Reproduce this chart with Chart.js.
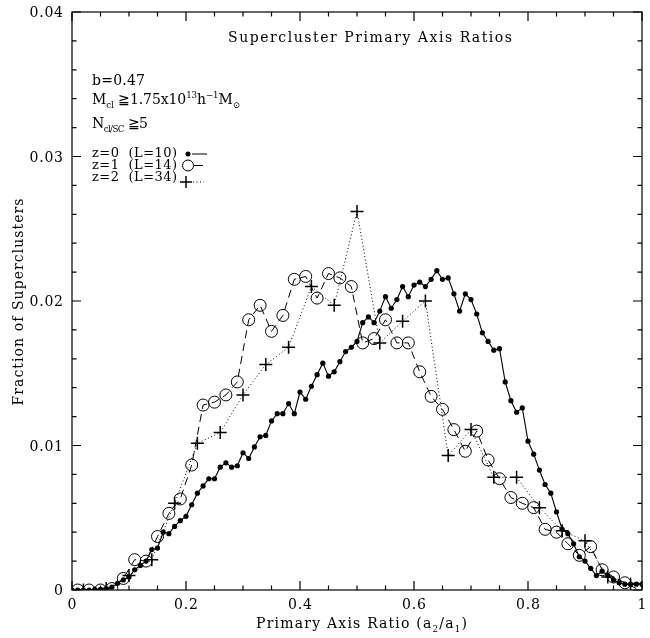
<!DOCTYPE html>
<html><head><meta charset="utf-8">
<script src="https://cdn.jsdelivr.net/npm/chart.js@4.4.1/dist/chart.umd.min.js"></script>
<style>html,body{margin:0;padding:0;background:#fff;}#wrap{width:650px;height:638px;position:relative}</style>
</head><body><div id="wrap"><canvas id="c" width="650" height="638"></canvas></div>
<script>
// z=0 (L=10) : fine bins
const z0X = [0,0.01,0.02,0.03,0.04,0.05,0.06,0.07,0.08,0.09,0.10,0.11,0.12,0.13,0.14,0.15,0.16,0.17,0.18,0.19,0.20,0.21,0.22,0.23,0.24,0.25,0.26,0.27,0.28,0.29,0.30,0.31,0.32,0.33,0.34,0.35,0.36,0.37,0.38,0.39,0.40,0.41,0.42,0.43,0.44,0.45,0.46,0.47,0.48,0.49,0.50,0.51,0.52,0.53,0.54,0.55,0.56,0.57,0.58,0.59,0.60,0.61,0.62,0.63,0.64,0.65,0.66,0.67,0.68,0.69,0.70,0.71,0.72,0.73,0.74,0.75,0.76,0.77,0.78,0.79,0.80,0.81,0.82,0.83,0.84,0.85,0.86,0.87,0.88,0.89,0.90,0.91,0.92,0.93,0.94,0.95,0.96,0.97,0.98,0.99,1.00];
const z0Y = [0,0,0,0,0.00005,0.00005,0.0001,0.0002,0.00046,0.0007,0.0009,0.0014,0.0017,0.002,0.0028,0.0029,0.004,0.0039,0.0044,0.0048,0.0051,0.0059,0.0067,0.0072,0.0077,0.0077,0.0085,0.0088,0.0085,0.0086,0.0095,0.0091,0.0099,0.0106,0.0107,0.0117,0.0122,0.0122,0.0129,0.0122,0.0137,0.0132,0.0141,0.0149,0.0157,0.0148,0.0151,0.0158,0.0165,0.0168,0.0172,0.0185,0.0189,0.0185,0.0193,0.0203,0.0195,0.0201,0.021,0.0203,0.0211,0.0213,0.021,0.0215,0.0221,0.0215,0.0216,0.0205,0.0193,0.0205,0.0201,0.0191,0.0178,0.0172,0.0166,0.0167,0.0144,0.0131,0.0123,0.0126,0.0103,0.0094,0.0083,0.0073,0.0067,0.0054,0.0042,0.0039,0.0032,0.0023,0.002,0.0015,0.001,0.0013,0.001,0.0007,0.0005,0.0004,0.0004,0.0004,0.0004];
// z=1 (L=14)
const z1X = [0.01,0.03,0.05,0.07,0.09,0.11,0.13,0.15,0.17,0.19,0.21,0.23,0.25,0.27,0.29,0.31,0.33,0.35,0.37,0.39,0.41,0.43,0.45,0.47,0.49,0.51,0.53,0.55,0.57,0.59,0.61,0.63,0.65,0.67,0.69,0.71,0.73,0.75,0.77,0.79,0.81,0.83,0.85,0.87,0.89,0.91,0.93,0.95,0.97,0.99];
const z1Y = [0,0,0,0.0001,0.0008,0.0021,0.002,0.0037,0.0053,0.0063,0.00865,0.0128,0.013,0.0135,0.0144,0.0187,0.0197,0.0179,0.019,0.0215,0.0217,0.0202,0.0219,0.0216,0.021,0.0171,0.0174,0.0187,0.0171,0.0171,0.0151,0.0134,0.0125,0.0111,0.0096,0.011,0.009,0.0077,0.0064,0.006,0.0057,0.0042,0.004,0.0032,0.0024,0.003,0.0014,0.0009,0.0005,0.0001];
// z=2 (L=34)
const z2X = [0.02,0.06,0.10,0.14,0.18,0.22,0.26,0.30,0.34,0.38,0.42,0.46,0.50,0.54,0.58,0.62,0.66,0.70,0.74,0.78,0.82,0.86,0.90,0.94,0.98];
const z2Y = [0,0.0001,0.001,0.0021,0.006,0.01015,0.0109,0.0135,0.0156,0.0168,0.021,0.0197,0.0262,0.0171,0.0186,0.02,0.0093,0.0111,0.0078,0.0078,0.0057,0.0041,0.0034,0.0009,0.0004];

const xTickVals = [0,0.2,0.4,0.6,0.8,1];
const xTickLabels = ['0','0.2','0.4','0.6','0.8','1'];
const yTickVals = [0,0.01,0.02,0.03,0.04];
const yTickLabels = ['0','0.01','0.02','0.03','0.04'];

const FONT = '"DejaVu Serif", "Liberation Serif", serif';
Chart.defaults.font.family = FONT;
Chart.defaults.color = '#000';

function pts(xs, ys){ return xs.map((x,i)=>({x:x, y:ys[i]})); }

function partFont(m, size){
  if (m === 'sub' || m === 'sup') return { fs: size*0.62, dy: m === 'sub' ? size*0.28 : -size*0.42 };
  return { fs: size, dy: 0 };
}
// draws text parts char by char; spacing either fixed (sp) or fitted to a target width
function rich(ctx, x, y, parts, size, opt){
  opt = opt || {};
  let nat = 0, n = 0;
  for (const [t,m] of parts){
    const f = partFont(m, size);
    ctx.font = f.fs + 'px ' + FONT;
    for (const ch of t){ nat += ctx.measureText(ch).width; n++; }
  }
  let sp = opt.sp || 0;
  if (opt.target) sp = (opt.target - nat) / Math.max(1, n - 1);
  const total = nat + sp * (n - 1);
  let cx = x;
  if (opt.align === 'center') cx = x - total/2;
  if (opt.align === 'right') cx = x - total;
  for (const [t,m] of parts){
    const f = partFont(m, size);
    ctx.font = f.fs + 'px ' + FONT;
    for (const ch of t){
      ctx.fillText(ch, cx, y + f.dy);
      cx += ctx.measureText(ch).width + sp;
    }
  }
}

const decor = {
  id: 'decor',
  afterDraw(chart){
    const {ctx, chartArea:a, scales:{x, y}} = chart;
    ctx.save();
    ctx.strokeStyle = '#000'; ctx.fillStyle = '#000'; ctx.lineWidth = 1.2;
    ctx.strokeRect(a.left, a.top, a.right - a.left, a.bottom - a.top);
    ctx.beginPath();
    for (let i = 0; i <= 20; i++){
      const px = x.getPixelForValue(i*0.05);
      const len = (i % 4 === 0) ? 9 : 4.5;
      ctx.moveTo(px, a.bottom); ctx.lineTo(px, a.bottom - len);
      ctx.moveTo(px, a.top); ctx.lineTo(px, a.top + len);
    }
    for (let i = 0; i <= 20; i++){
      const py = y.getPixelForValue(i*0.002);
      const len = (i % 5 === 0) ? 9 : 4.5;
      ctx.moveTo(a.left, py); ctx.lineTo(a.left + len, py);
      ctx.moveTo(a.right, py); ctx.lineTo(a.right - len, py);
    }
    ctx.stroke();

    ctx.textBaseline = 'alphabetic'; ctx.textAlign = 'left';
    // tick labels
    xTickVals.forEach((v,i) => rich(ctx, x.getPixelForValue(v), 609, [[xTickLabels[i],'n']], 14, {sp: 0.8, align: 'center'}));
    yTickVals.forEach((v,i) => rich(ctx, 63, y.getPixelForValue(v) + 5, [[yTickLabels[i],'n']], 14, {sp: 0.8, align: 'right'}));
    // title
    rich(ctx, 228, 42, [['Supercluster Primary Axis Ratios','n']], 14, {target: 284});
    // annotations
    rich(ctx, 92, 85, [['b=0.47','n']], 14, {target: 53});
    rich(ctx, 92, 104, [['M','n'],['cl','sub'],[' \u22671.75x10','n'],['13','sup'],['h','n'],['\u22121','sup'],['M','n'],['\u2299','sub']], 14, {target: 148});
    rich(ctx, 92, 128, [['N','n'],['cl/SC','sub'],[' \u22675','n']], 14, {target: 56});
    rich(ctx, 92, 157, [['z=0  (L=10)','n']], 13, {target: 85});
    rich(ctx, 92, 169, [['z=1  (L=14)','n']], 13, {target: 85});
    rich(ctx, 92, 181, [['z=2  (L=34)','n']], 13, {target: 85});
    // legend markers
    ctx.lineWidth = 1;
    ctx.beginPath(); ctx.arc(188, 154, 2.5, 0, Math.PI*2); ctx.fill();
    ctx.beginPath(); ctx.moveTo(192, 154); ctx.lineTo(207, 154); ctx.stroke();
    ctx.beginPath(); ctx.arc(188, 165.5, 5.5, 0, Math.PI*2); ctx.stroke();
    ctx.beginPath(); ctx.moveTo(194, 165.5); ctx.lineTo(203, 165.5); ctx.stroke();
    ctx.lineWidth = 1.5;
    ctx.beginPath(); ctx.moveTo(180, 182); ctx.lineTo(192, 182); ctx.moveTo(186, 176); ctx.lineTo(186, 188); ctx.stroke();
    ctx.lineWidth = 1; ctx.setLineDash([1,2.5]);
    ctx.beginPath(); ctx.moveTo(193, 182); ctx.lineTo(204, 182); ctx.stroke();
    ctx.setLineDash([]);
    // axis titles
    rich(ctx, 256, 628, [['Primary Axis Ratio (a','n'],['2','sub'],['/a','n'],['1','sub'],[')','n']], 14, {target: 211});
    ctx.save();
    ctx.translate(23, 302); ctx.rotate(-Math.PI/2);
    rich(ctx, 0, 0, [['Fraction of Superclusters','n']], 14, {target: 207, align: 'center'});
    ctx.restore();
    ctx.restore();
  }
};

new Chart(document.getElementById('c'), {
  type: 'line',
  data: {
    datasets: [
      { label: 'z=0 (L=10)', data: pts(z0X, z0Y), borderColor: '#000', backgroundColor: '#000', borderWidth: 1.1,
        pointStyle: 'circle', pointRadius: 2.6, pointBorderWidth: 0, pointBackgroundColor: '#000', tension: 0 },
      { label: 'z=1 (L=14)', data: pts(z1X, z1Y), borderColor: '#000', borderWidth: 1, borderDash: [8,5],
        pointStyle: 'circle', pointRadius: 6, pointBorderWidth: 1, pointBorderColor: '#000', pointBackgroundColor: 'rgba(0,0,0,0)', tension: 0 },
      { label: 'z=2 (L=34)', data: pts(z2X, z2Y), borderColor: '#000', borderWidth: 1, borderDash: [1,2.5],
        pointStyle: 'cross', pointRadius: 6.5, pointBorderWidth: 1.5, pointBorderColor: '#000', tension: 0 }
    ]
  },
  options: {
    responsive: false, animation: false, devicePixelRatio: 1,
    layout: { padding: { top: 12, right: 2, left: 0, bottom: 0 } },
    plugins: { legend: { display: false }, tooltip: { enabled: false }, title: { display: false } },
    scales: {
      x: { type: 'linear', min: 0, max: 1,
        grid: { display: false, drawTicks: false }, border: { display: false },
        ticks: { display: false, stepSize: 0.2 },
        afterFit: (s) => { s.height = 48; s.paddingLeft = 0; s.paddingRight = 0; } },
      y: { type: 'linear', min: 0, max: 0.04,
        grid: { display: false, drawTicks: false }, border: { display: false },
        ticks: { display: false, stepSize: 0.01 },
        afterFit: (s) => { s.width = 72; s.paddingTop = 0; s.paddingBottom = 0; } }
    }
  },
  plugins: [decor]
});
</script></body></html>
